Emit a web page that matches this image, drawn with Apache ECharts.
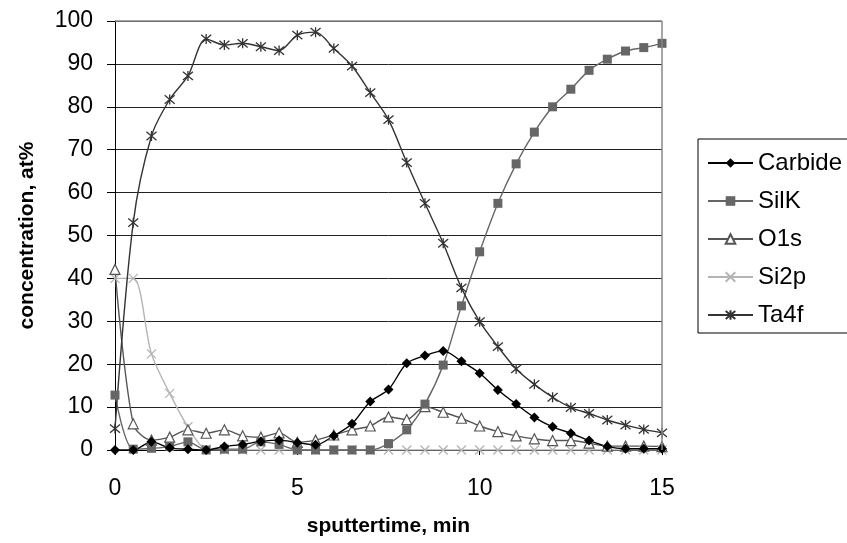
<!DOCTYPE html>
<html>
<head>
<meta charset="utf-8">
<script src="https://cdn.jsdelivr.net/npm/echarts@6/dist/echarts.min.js"></script>
<style>
  html, body { margin: 0; padding: 0; background: #fff; }
  #main { width: 847px; height: 543px; }
</style>
</head>
<body>
<div id="main"></div>
<script>
// sputter time, min (0 .. 15 step 0.5)
const times = [0, 0.5, 1, 1.5, 2, 2.5, 3, 3.5, 4, 4.5, 5, 5.5, 6, 6.5, 7, 7.5,
  8, 8.5, 9, 9.5, 10, 10.5, 11, 11.5, 12, 12.5, 13, 13.5, 14, 14.5, 15];

const carbide = [0, 0, 1.9, 0.5, 0.2, 0, 0.8, 1.3, 2.0, 2.3, 1.7, 1.2, 3.3, 6.1, 11.3, 14.1,
  20.2, 22, 23.1, 20.7, 17.9, 14, 10.7, 7.6, 5.4, 3.9, 2.2, 0.8, 0.3, 0.3, 0.3];
const silk = [12.8, 0.2, 0.4, 0.8, 1.9, 0, 0.2, 0.2, 1.9, 1.3, 0, 0, 0, 0, 0, 1.5,
  4.7, 10.7, 19.8, 33.6, 46.2, 57.5, 66.7, 74.1, 80, 84.1, 88.5, 91.1, 93, 93.8, 94.8];
const o1s = [42.1, 6.1, 2.3, 3.0, 4.7, 3.9, 4.7, 3.3, 3.0, 4.0, 1.8, 2.3, 3.5, 4.7, 5.6, 7.7,
  7.1, 10.1, 8.8, 7.4, 5.6, 4.3, 3.3, 2.6, 2.2, 2.2, 1.6, 0.9, 0.9, 0.9, 0.8];
const si2p = [40, 40, 22.4, 13.2, 5.4, 0.2, 0, 0, 0, 0, 0, 0, 0, 0, 0, 0,
  0, 0, 0, 0, 0, 0, 0, 0, 0, 0, 0, 0, 0, 0, 0];
const ta4f = [5, 53, 73.2, 81.7, 87.2, 95.8, 94.4, 94.8, 94, 93.1, 96.7, 97.4, 93.6, 89.5, 83.3, 77,
  67, 57.5, 48.2, 37.8, 29.9, 24.1, 18.9, 15.3, 12.3, 9.9, 8.5, 7, 5.8, 4.8, 4];

const pairs = arr => times.map((t, i) => [t, arr[i]]);

const crossPath = 'path://M0,0L10,10M10,0L0,10';
const starPath = 'path://M0,0L10,10M10,0L0,10M5,-1L5,11';
const font = 'Liberation Sans, Arial';

const chart = echarts.init(document.getElementById('main'));

function series(name, data, color, symbol, size, extra) {
  return Object.assign({
    name: name,
    type: 'line',
    data: pairs(data),
    smooth: 0.3,
    symbol: symbol,
    symbolSize: size,
    lineStyle: { color: color, width: 1.4 },
    itemStyle: { color: color },
    emphasis: { disabled: true }
  }, extra || {});
}

chart.setOption({
  animation: false,
  grid: { left: 115, right: 185, top: 21, bottom: 93 },
  legend: {
    orient: 'vertical',
    left: 698,
    top: 139,
    padding: [12, 6, 6, 9],
    borderColor: '#000',
    borderWidth: 1,
    itemWidth: 45,
    itemHeight: 12,
    itemGap: 14,
    textStyle: { fontFamily: font, fontSize: 24, color: '#000' },
    data: ['Carbide', 'SilK', 'O1s', 'Si2p', 'Ta4f']
  },
  xAxis: {
    type: 'value',
    min: 0,
    max: 15,
    interval: 5,
    name: 'sputtertime, min',
    nameLocation: 'middle',
    nameGap: 66,
    nameTextStyle: { fontFamily: font, fontSize: 21, fontWeight: 'bold', color: '#000' },
    axisLine: { onZero: false, lineStyle: { color: '#000', width: 1 } },
    axisTick: { show: true, length: 5, lineStyle: { color: '#000' } },
    axisLabel: { margin: 27, fontFamily: font, fontSize: 23, color: '#000' },
    splitLine: { show: false }
  },
  yAxis: {
    type: 'value',
    min: 0,
    max: 100,
    interval: 10,
    name: 'concentration, at%',
    nameLocation: 'middle',
    nameGap: 77,
    nameTextStyle: { fontFamily: font, fontSize: 21, fontWeight: 'bold', color: '#000' },
    axisLine: { show: true, lineStyle: { color: '#000', width: 1 } },
    axisTick: { show: true, length: 8, lineStyle: { color: '#000' } },
    axisLabel: { margin: 22, fontFamily: font, fontSize: 23, color: '#000' },
    splitLine: { show: true, lineStyle: { color: '#222', width: 1 } }
  },
  series: [
    {
      type: 'line', data: [], silent: true,
      markLine: {
        silent: true, symbol: 'none', label: { show: false },
        lineStyle: { color: '#888', type: 'solid', width: 1.5 },
        data: [[{ coord: [0, 100] }, { coord: [15, 100] }], [{ coord: [15, 0] }, { coord: [15, 100] }]]
      }
    },
    series('Si2p', si2p, '#b4b4b4', crossPath, 9, {
      itemStyle: { color: 'none', borderColor: '#b4b4b4', borderWidth: 1.3 }
    }),
    series('O1s', o1s, '#555', 'triangle', 10, {
      itemStyle: { color: '#fff', borderColor: '#555', borderWidth: 1.2 }
    }),
    series('SilK', silk, '#666', 'rect', 9),
    series('Carbide', carbide, '#000', 'diamond', 10),
    series('Ta4f', ta4f, '#333', starPath, 10, {
      itemStyle: { color: 'none', borderColor: '#333', borderWidth: 1.3 }
    })
  ]
});
</script>
</body>
</html>
